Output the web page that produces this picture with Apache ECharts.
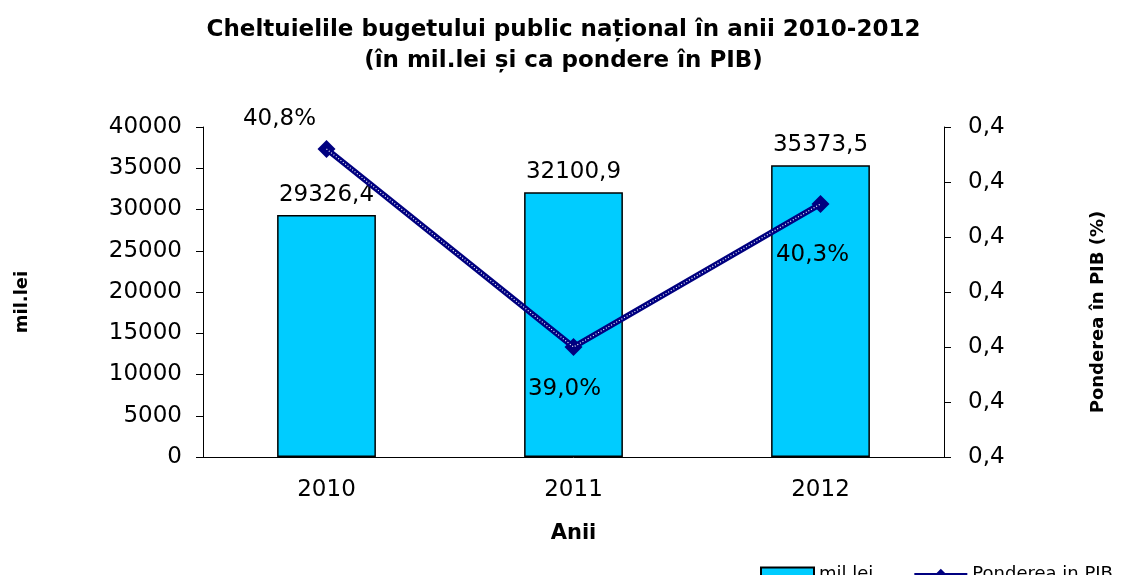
<!DOCTYPE html>
<html>
<head>
<meta charset="utf-8">
<script src="https://cdn.jsdelivr.net/npm/echarts@6/dist/echarts.min.js"></script>
<style>
  html, body { margin: 0; padding: 0; background: #fff; }
  #chart { width: 1127px; height: 575px; }
</style>
</head>
<body>
<div id="chart"></div>
<script>
const years = ["2010", "2011", "2012"];
const cheltuieli = [29326.4, 32100.9, 35373.5];
const pondere = [0.408, 0.390, 0.403];
// label offsets for the line labels, as in the picture
const pondereLabelOffsets = [[-47, -4], [-9, 68], [-8, 77]];

const FONT = "DejaVu Sans, Verdana, sans-serif";
const comma = (s) => String(s).replace(".", ",");

let chart = echarts.init(document.getElementById("chart"));

let option = {
  backgroundColor: "#fff",
  animation: false,
  textStyle: { fontFamily: FONT, color: "#000" },
  title: {
    text: "Cheltuielile bugetului public național în anii 2010-2012\n(în mil.lei și ca pondere în PIB)",
    left: "center",
    top: 10,
    textStyle: { fontSize: 23, fontWeight: "bold", lineHeight: 31, color: "#000", fontFamily: FONT },
  },
  legend: {
    left: 755,
    top: 560,
    itemGap: 40,
    itemWidth: 53,
    itemHeight: 13,
    textStyle: { fontSize: 18, color: "#000", fontFamily: FONT },
    data: [
      { name: "mil.lei", icon: "rect", itemStyle: { color: "#00CCFF", borderColor: "#000", borderWidth: 2 } },
      { name: "Ponderea in PIB" },
    ],
  },
  grid: { left: 203, right: 183, top: 127, bottom: 118 },
  xAxis: {
    type: "category",
    data: years,
    name: "Anii",
    nameLocation: "middle",
    nameGap: 66,
    nameTextStyle: { fontSize: 21, fontWeight: "bold", color: "#000" },
    axisLine: { lineStyle: { color: "#000", width: 1 } },
    axisTick: { length: 8, lineStyle: { color: "#000" } },
    axisLabel: { fontSize: 23, color: "#000", margin: 22 },
  },
  yAxis: [
    {
      type: "value",
      min: 0,
      max: 40000,
      interval: 5000,
      name: "mil.lei",
      nameLocation: "middle",
      nameRotate: 90,
      nameGap: 172,
      nameTextStyle: { fontSize: 18, fontWeight: "bold", color: "#000", padding: [0, 20, 0, 0] },
      axisLine: { show: true, lineStyle: { color: "#000" } },
      axisTick: { show: true, length: 7, lineStyle: { color: "#000" } },
      axisLabel: { fontSize: 23, color: "#000", margin: 21, formatter: (v) => String(v) },
      splitLine: { show: false },
    },
    {
      type: "value",
      min: 0.38,
      max: 0.41,
      interval: 0.005,
      position: "right",
      name: "Ponderea în PIB (%)",
      nameLocation: "middle",
      nameRotate: 90,
      nameGap: 145,
      nameTextStyle: { fontSize: 18, fontWeight: "bold", color: "#000", padding: [0, 40, 0, 0] },
      axisLine: { show: true, lineStyle: { color: "#000" } },
      axisTick: { show: true, length: 7, lineStyle: { color: "#000" } },
      axisLabel: {
        fontSize: 23,
        color: "#000",
        margin: 24,
        formatter: (v) => comma(v.toFixed(1)),
      },
      splitLine: { show: false },
    },
  ],
  series: [
    {
      name: "mil.lei",
      type: "bar",
      data: cheltuieli,
      barWidth: "40%",
      itemStyle: { color: "#00CCFF", borderColor: "#000", borderWidth: 1.5 },
      label: {
        show: true,
        position: "top",
        distance: 9,
        fontSize: 23,
        color: "#000",
        formatter: (p) => comma(p.value.toFixed(1)),
      },
    },
    {
      name: "Ponderea in PIB",
      type: "line",
      yAxisIndex: 1,
      data: pondere.map((v, i) => ({
        value: v,
        label: { offset: pondereLabelOffsets[i] },
      })),
      symbol: "diamond",
      symbolSize: 18,
      lineStyle: { color: "#000080", width: 6 },
      itemStyle: { color: "#000080" },
      label: {
        show: true,
        position: "top",
        fontSize: 23,
        color: "#000",
        formatter: (p) => comma((p.value * 100).toFixed(1)) + "%",
      },
      z: 3,
    },
    {
      // white dotted pattern running through the navy line
      name: "Ponderea in PIB",
      type: "line",
      yAxisIndex: 1,
      data: pondere,
      symbol: "none",
      lineStyle: { color: "#fff", width: 1.2, type: [1, 2] },
      silent: true,
      z: 4,
    },
  ],
};

option && chart.setOption(option);
</script>
</body>
</html>
